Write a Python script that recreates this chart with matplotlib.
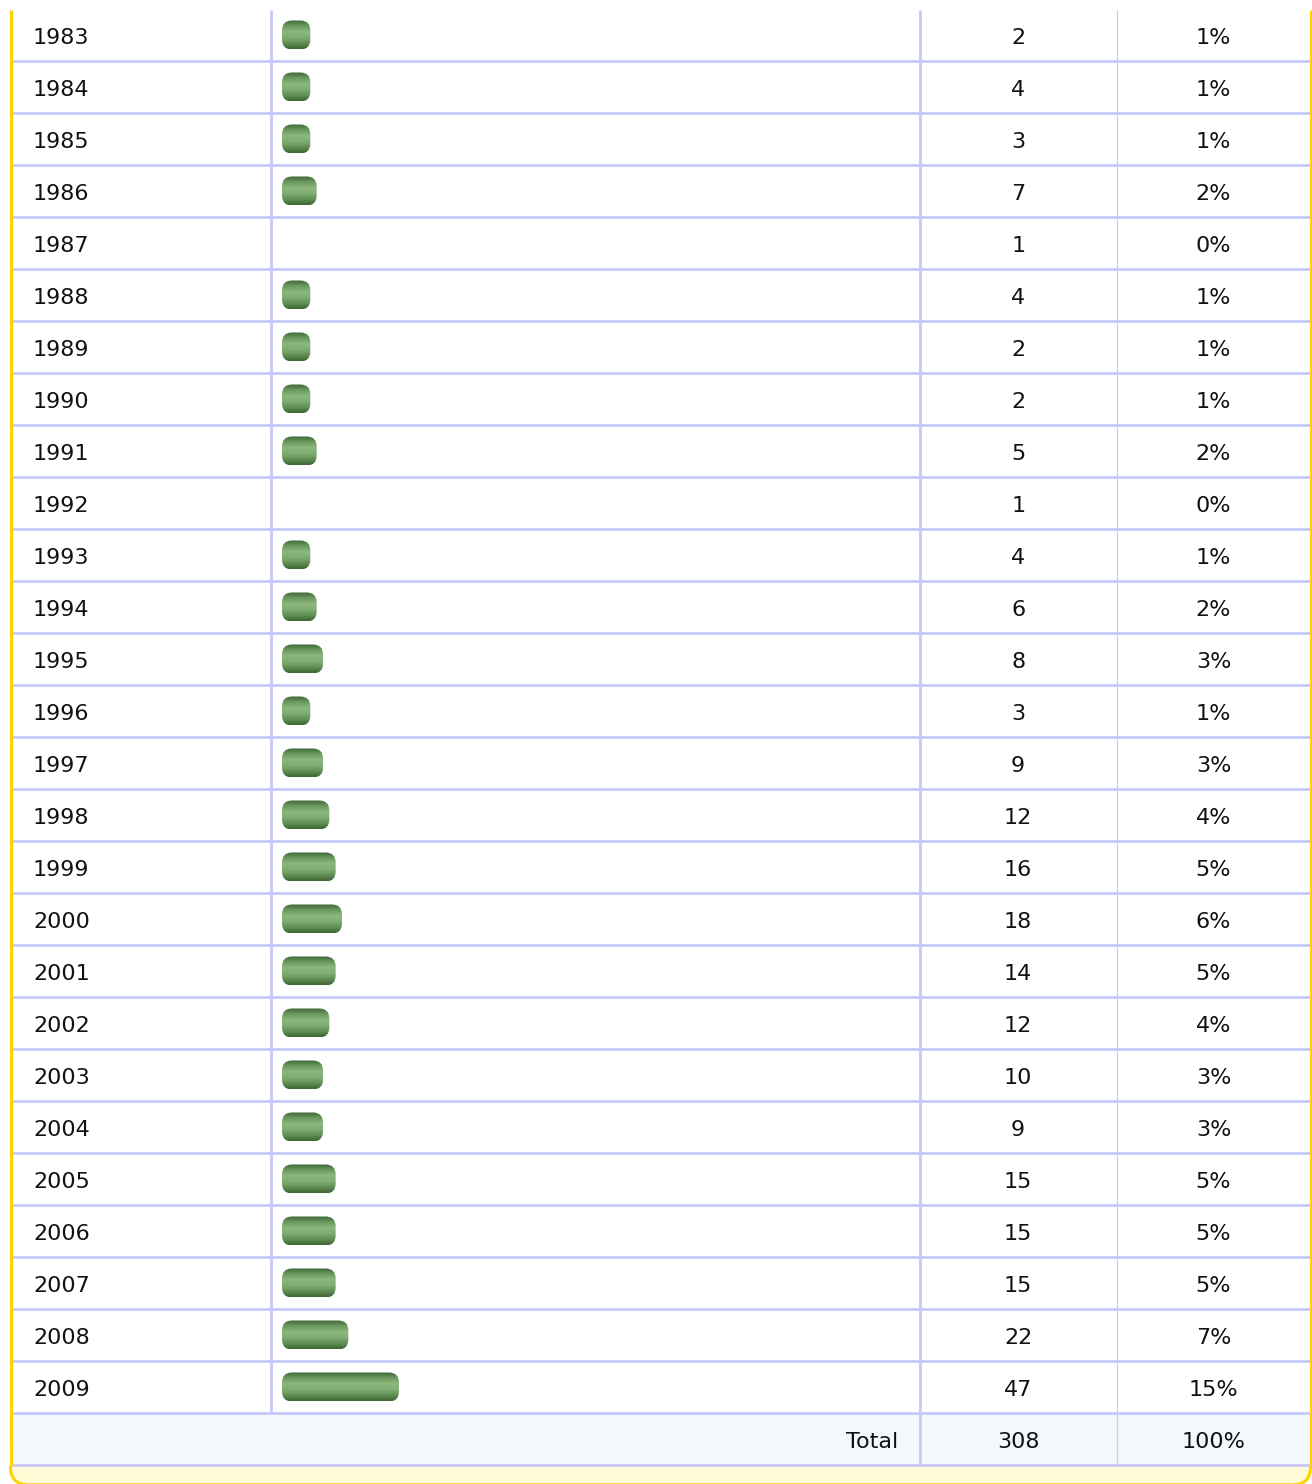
import matplotlib
matplotlib.use("Agg")
import matplotlib.pyplot as plt
import numpy as np
from matplotlib.patches import FancyBboxPatch, Rectangle

# table data
years = ["1983", "1984", "1985", "1986", "1987", "1988", "1989", "1990", "1991",
         "1992", "1993", "1994", "1995", "1996", "1997", "1998", "1999", "2000",
         "2001", "2002", "2003", "2004", "2005", "2006", "2007", "2008", "2009"]
counts = [2, 4, 3, 7, 1, 4, 2, 2, 5, 1, 4, 6, 8, 3, 9, 12, 16, 18,
          14, 12, 10, 9, 15, 15, 15, 22, 47]
percents = [1, 1, 1, 2, 0, 1, 1, 1, 2, 0, 1, 2, 3, 1, 3, 4, 5, 6,
            5, 4, 3, 3, 5, 5, 5, 7, 15]
total_label = "Total"
total_count = 308
total_percent = 100

# layout in pixels
W, H = 1312, 1484
TOP = 10
ROW_H = 52
LEFT, RIGHT = 10.5, 1310.5
COL_BAR, COL_CNT, COL_PCT = 271.3, 919.7, 1116.6
BAR_X0 = 282
BAR_H = 29
BAR_CAP = 22       # rounded ends
BAR_SCALE = 6.33   # px per percent
TXT_DY = 1.5

LINE = "#c8c8fc"
YELLOW = "#ffd200"
TOTAL_BG = "#f3f8fd"
FOOT_BG = "#fffbd7"

fig = plt.figure(figsize=(W / 100, H / 100), dpi=100)
ax = fig.add_axes([0, 0, 1, 1])
ax.set_xlim(0, W)
ax.set_ylim(H, 0)
ax.axis("off")

n = len(years)
bottom_rows = TOP + ROW_H * n
bottom_total = bottom_rows + ROW_H

# footer strip with rounded bottom corners (bottom edge runs off the image)
foot = FancyBboxPatch((LEFT, bottom_total - 40), RIGHT - LEFT, H + 0.8 - (bottom_total - 40),
                      boxstyle="round,pad=0,rounding_size=18",
                      fc=FOOT_BG, ec=YELLOW, lw=2.2, zorder=1)
ax.add_patch(foot)
ax.add_patch(Rectangle((LEFT - 1.5, TOP), RIGHT - LEFT + 3, bottom_total - TOP,
                       fc="white", ec="none", zorder=2))

# total row background
ax.add_patch(Rectangle((LEFT, bottom_rows), RIGHT - LEFT, ROW_H,
                       fc=TOTAL_BG, ec="none", zorder=2))

# gradient for the bars
grad_colors = np.array([
    [0.24, 0.41, 0.21],
    [0.42, 0.60, 0.37],
    [0.55, 0.72, 0.49],
    [0.50, 0.68, 0.45],
    [0.38, 0.56, 0.33],
    [0.24, 0.40, 0.20],
])
ys = np.linspace(0, 1, 64)
stops = np.linspace(0, 1, len(grad_colors))
grad = np.stack([np.interp(ys, stops, grad_colors[:, c]) for c in range(3)], axis=1)
grad = grad[:, None, :]

for i, (yr, cnt, pct) in enumerate(zip(years, counts, percents)):
    y0 = TOP + ROW_H * i
    yc = y0 + ROW_H / 2
    ax.text(33, yc + TXT_DY, yr, fontsize=16, ha="left", va="center", color="#111111", zorder=5)
    ax.text((COL_CNT + COL_PCT) / 2, yc + TXT_DY, str(cnt), fontsize=16, ha="center",
            va="center", color="#111111", zorder=5)
    ax.text((COL_PCT + RIGHT) / 2, yc + TXT_DY, f"{pct}%", fontsize=16, ha="center",
            va="center", color="#111111", zorder=5)
    if pct > 0:
        bw = BAR_CAP + BAR_SCALE * pct
        by = yc - BAR_H / 2 - 1
        patch = FancyBboxPatch((BAR_X0, by), bw, BAR_H,
                               boxstyle="round,pad=0,rounding_size=10",
                               fc="none", ec="none", zorder=4)
        ax.add_patch(patch)
        im = ax.imshow(grad, extent=(BAR_X0, BAR_X0 + bw, by + BAR_H, by),
                       aspect="auto", interpolation="bilinear", zorder=4)
        im.set_clip_path(patch)
    # row separator
    ax.plot([LEFT, RIGHT], [y0 + ROW_H - 0.7, y0 + ROW_H - 0.7], color=LINE, lw=2.0,
            solid_capstyle="butt", zorder=3)

# total row
yc = bottom_rows + ROW_H / 2 + TXT_DY
ax.text(898, yc, total_label, fontsize=16, ha="right", va="center", color="#111111", zorder=5)
ax.text((COL_CNT + COL_PCT) / 2, yc, str(total_count), fontsize=16, ha="center", va="center",
        color="#111111", zorder=5)
ax.text((COL_PCT + RIGHT) / 2, yc, f"{total_percent}%", fontsize=16, ha="center", va="center",
        color="#111111", zorder=5)
ax.plot([LEFT, RIGHT], [bottom_total - 1.2, bottom_total - 1.2], color=LINE, lw=2.0,
        solid_capstyle="butt", zorder=3)

# column lines
ax.plot([COL_BAR, COL_BAR], [TOP, bottom_rows], color=LINE, lw=2.0, solid_capstyle="butt", zorder=3)
ax.plot([COL_CNT, COL_CNT], [TOP, bottom_total], color=LINE, lw=2.0, solid_capstyle="butt", zorder=3)
ax.plot([COL_PCT, COL_PCT], [TOP, bottom_total], color=LINE, lw=0.9, solid_capstyle="butt", zorder=3)

# yellow side borders
ax.plot([LEFT, LEFT], [TOP, bottom_total], color=YELLOW, lw=2.2, solid_capstyle="butt", zorder=3)
ax.plot([RIGHT, RIGHT], [TOP, bottom_total], color=YELLOW, lw=2.2, solid_capstyle="butt", zorder=3)

fig.savefig("out.png", dpi=100)
